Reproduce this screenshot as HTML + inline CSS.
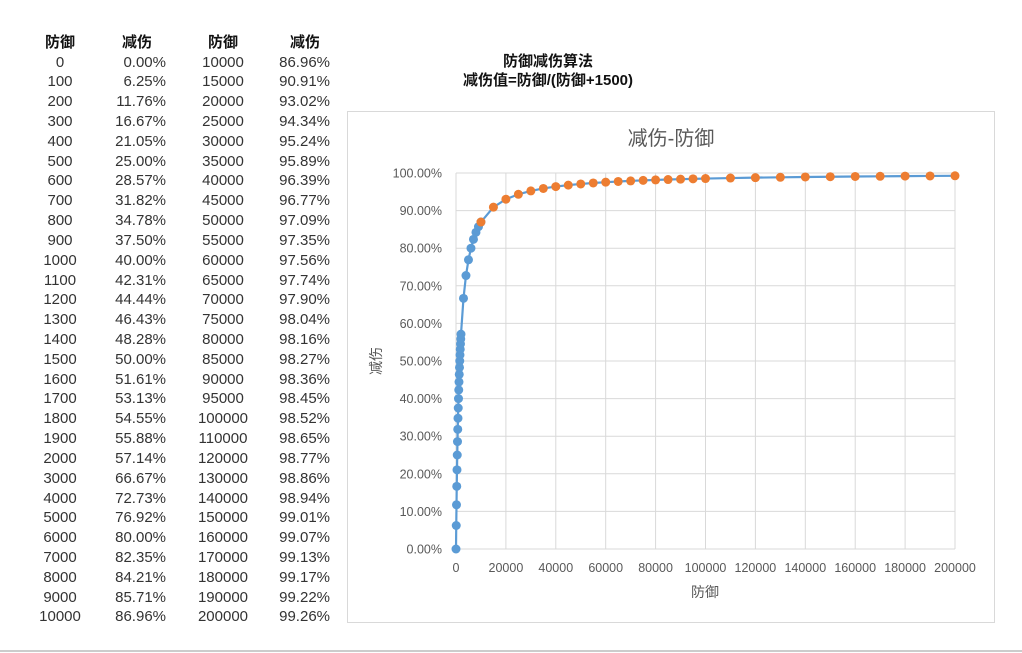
<!DOCTYPE html>
<html><head><meta charset="utf-8">
<style>
body{margin:0;width:1022px;height:653px;background:#fff;position:relative;overflow:hidden;font-family:"Liberation Sans","Noto Sans CJK SC",sans-serif;}
.t{position:absolute;font-size:15px;color:#333;line-height:18px;white-space:nowrap;}
.h{font-weight:bold;color:#111;}
</style></head><body>
<div id="tbl"></div>
<div style="position:absolute;left:398px;top:52px;width:300px;text-align:center;font-weight:bold;font-size:15px;line-height:19px;color:#111;">防御减伤算法<br>减伤值=防御/(防御+1500)</div>
<div style="position:absolute;left:0;top:650px;width:1022px;height:2px;background:#ccc"></div>
<svg id="ch" width="1022" height="653" style="position:absolute;left:0;top:0" xmlns="http://www.w3.org/2000/svg"></svg>
<script>
var tb=document.getElementById('tbl'),h='';
var a=[],b=[];
for(var i=0;i<=2000;i+=100)a.push(i);for(i=3000;i<=10000;i+=1000)a.push(i);
for(i=10000;i<=100000;i+=5000)b.push(i);for(i=110000;i<=200000;i+=10000)b.push(i);
function f(x){return x/(x+1500);}
function p(x){return (f(x)*100).toFixed(2)+'%';}
function cell(x,y,txt,al,cls){
 if(al=='c')h+='<div class="t '+(cls||'')+'" style="left:'+(x-60)+'px;width:120px;text-align:center;top:'+y+'px">'+txt+'</div>';
 else h+='<div class="t '+(cls||'')+'" style="left:'+(x-120)+'px;width:120px;text-align:right;top:'+y+'px">'+txt+'</div>';
}
cell(60,34,'防御','c','h');cell(137,34,'减伤','c','h');cell(223,34,'防御','c','h');cell(305,34,'减伤','c','h');
for(i=0;i<29;i++){var y=53.5+i*19.82;cell(60,y,a[i],'c');cell(166,y,p(a[i]),'r');cell(223,y,b[i],'c');cell(330,y,p(b[i]),'r');}
tb.innerHTML=h;
var s='';
s+='<rect x="347.5" y="111.5" width="647" height="511" fill="#fff" stroke="#d9d9d9"/>';
s+='<text x="671" y="145" font-size="20" fill="#595959" text-anchor="middle" font-family="Liberation Sans,Noto Sans CJK SC,sans-serif">减伤-防御</text>';
var X0=456,X1=955,Y0=549,Y1=173;
function X(v){return X0+(X1-X0)*v/200000;}function Y(v){return Y0-(Y0-Y1)*v;}
for(i=0;i<=10;i++){var yy=Y(i/10);s+='<line x1="'+X0+'" x2="'+X1+'" y1="'+yy+'" y2="'+yy+'" stroke="#d9d9d9"/>';
 s+='<text x="442" y="'+(yy+4.5)+'" font-size="12.5" fill="#595959" text-anchor="end" font-family="Liberation Sans,sans-serif">'+(i*10)+'.00%</text>';}
for(i=0;i<=10;i++){var xx=X(i*20000);s+='<line x1="'+xx+'" x2="'+xx+'" y1="'+Y1+'" y2="'+Y0+'" stroke="#d9d9d9"/>';
 s+='<text x="'+xx+'" y="572" font-size="12.5" fill="#595959" text-anchor="middle" font-family="Liberation Sans,sans-serif">'+(i*20000)+'</text>';}
s+='<text x="705" y="597" font-size="14" fill="#595959" text-anchor="middle" font-family="Liberation Sans,Noto Sans CJK SC,sans-serif">防御</text>';
s+='<text transform="translate(381,361) rotate(-90)" font-size="14" fill="#595959" text-anchor="middle" font-family="Liberation Sans,Noto Sans CJK SC,sans-serif">减伤</text>';
function line(arr,c){return '<polyline fill="none" stroke="'+c+'" stroke-width="2.2" points="'+arr.map(function(v){return X(v)+','+Y(f(v))}).join(' ')+'"/>';}
s+=line(a,'#5b9bd5');s+=line(b,'#5b9bd5');
a.forEach(function(v){s+='<circle cx="'+X(v)+'" cy="'+Y(f(v))+'" r="4.5" fill="#5b9bd5"/>';});
b.forEach(function(v){s+='<circle cx="'+X(v)+'" cy="'+Y(f(v))+'" r="4.5" fill="#ed7d31"/>';});
document.getElementById('ch').innerHTML=s;
</script>
</body></html>
